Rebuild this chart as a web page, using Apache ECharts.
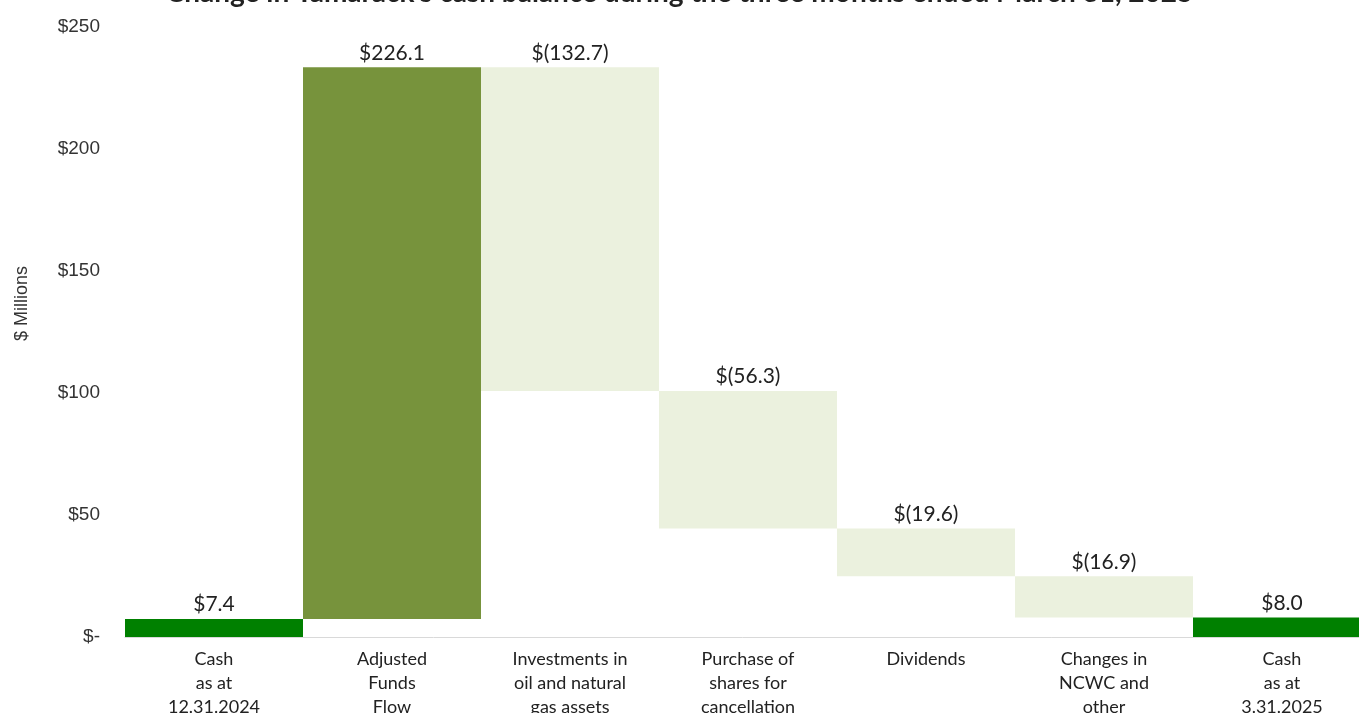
<!DOCTYPE html>
<html><head><meta charset="utf-8">
<script src="https://cdn.jsdelivr.net/npm/echarts@6/dist/echarts.min.js"></script>
<style>html,body{margin:0;padding:0;background:#fff}#c{width:1359px;height:713px}</style>
</head><body><div id="c"></div>
<script>
const titleText = "Change in Tamarack's cash balance during the three months ended March 31, 2025";
const yAxisName = "$ Millions";
const categories = ["Cash\nas at\n12.31.2024", "Adjusted\nFunds\nFlow", "Investments in\noil and natural\ngas assets", "Purchase of\nshares for\ncancellation", "Dividends", "Changes in\nNCWC and\nother", "Cash\nas at\n3.31.2025"];
const changes = [7.4, 226.1, -132.7, -56.3, -19.6, -16.9, 8.0];
const isTotal = [true, false, false, false, false, false, true];
const yTicks = [0, 50, 100, 150, 200, 250];

const colTotal = '#008000', colPos = '#77933C', colNeg = '#EBF1DE';
const base = [], shown = [];
let run = 0;
changes.forEach((v, i) => {
  if (isTotal[i]) { base.push(0); shown.push({value: v, itemStyle: {color: colTotal}}); run = v; }
  else if (v >= 0) { base.push(run); shown.push({value: v, itemStyle: {color: colPos}}); run += v; }
  else { run += v; base.push(run); shown.push({value: -v, itemStyle: {color: colNeg}}); }
});
const fmt = v => v < 0 ? '$(' + (-v).toFixed(1) + ')' : '$' + v.toFixed(1);

const chart = echarts.init(document.getElementById('c'));
chart.setOption({
  animation: false,
  title: {text: titleText, left: 'center', top: -26, textStyle: {fontFamily: 'Lato', fontWeight: 'bold', fontSize: 28, color: '#222'}},
  grid: {left: 125, top: 27, width: 1246, bottom: 76, containLabel: false, outerBoundsMode: 'none'},
  graphic: [{type: 'text', x: 13, y: 341, rotation: Math.PI / 2,
    style: {text: yAxisName, fontFamily: 'Liberation Sans Narrow, Liberation Sans', fontSize: 18, fill: '#333'}}],
  xAxis: {type: 'category', data: categories,
    axisLine: {lineStyle: {color: '#d9d9d9', width: 1}}, axisTick: {show: false},
    axisLabel: {interval: 0, fontFamily: 'Lato', fontSize: 18, color: '#222', lineHeight: 24, margin: 10}},
  yAxis: {type: 'value', min: 0, max: 250, interval: 50,
    splitLine: {show: false}, axisLine: {show: false}, axisTick: {show: false},
    axisLabel: {margin: 25, fontFamily: 'Liberation Sans', fontSize: 19, color: '#333',
      formatter: v => yTicks.includes(v) ? (v === 0 ? '$-' : '$' + v) : ''}},
  series: [
    {type: 'bar', stack: 'w', data: base, itemStyle: {color: 'transparent'}, barCategoryGap: 0, silent: true},
    {type: 'bar', stack: 'w', data: shown, barCategoryGap: 0,
      label: {show: true, position: 'top', distance: 4, fontFamily: 'Lato', fontSize: 21, color: '#222',
        formatter: p => fmt(changes[p.dataIndex])}}
  ]
});
</script></body></html>
